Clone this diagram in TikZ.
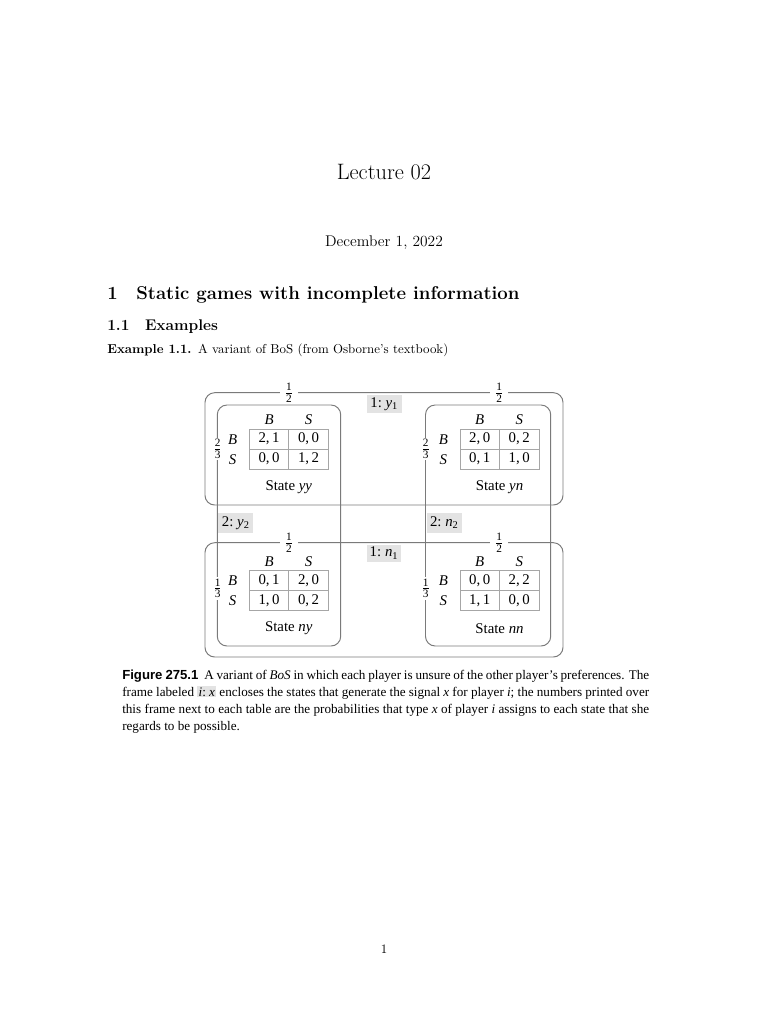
\documentclass[tikz,border=0pt]{standalone}
\usepackage{amsmath}
\usepackage{fontspec}
\newfontfamily\figfont{Liberation Serif}
\newfontfamily\capsans{Liberation Sans}
\newcommand\ff{\figfont\fontsize{11.5}{13.5}\selectfont}
\newcommand\capf{\figfont\fontsize{10.2}{12}\selectfont}
\newcommand\fr[2]{$\frac{\text{#1}}{\text{#2}}$}
\newcommand\gtab[8]{%
  % #1 name, #2 left x, #3 top y, #4..#7 payoffs, #8 state
  \node[hdr] (#1-hb) at ({#2+19.75},{#3-9.5}) {\textit{B}};
  \node[hdr] (#1-hs) at ({#2+59.25},{#3-9.5}) {\textit{S}};
  \node[hdr] (#1-rb) at ({#2-16.6},{#3+10}) {\textit{B}};
  \node[hdr] (#1-rs) at ({#2-16.6},{#3+30}) {\textit{S}};
  \node[cellbox] (#1-11) at ({#2+19.75},{#3+10}) {#4};
  \node[cellbox] (#1-12) at ({#2+59.25},{#3+10}) {#5};
  \node[cellbox] (#1-21) at ({#2+19.75},{#3+30}) {#6};
  \node[cellbox] (#1-22) at ({#2+59.25},{#3+30}) {#7};
  \node[hdr] (#1-st) at ({#2+39.5},{#3+57.5}) {State \textit{#8}};
}
\begin{document}
\begin{tikzpicture}[x=0.775pt,y=-0.775pt,
  frame/.style={draw=black!52, line width=0.75pt, rounded corners=7.5pt},
  hdr/.style={font=\ff, inner sep=0pt},
  cellbox/.style={draw=black!35, line width=0.5pt, font=\ff, inner sep=0pt,
    minimum width=30.6pt, minimum height=15.5pt, text height=7.8pt, text depth=2.2pt},
  frac/.style={font=\figfont\fontsize{12.5}{14}\selectfont, fill=white, inner xsep=3.5pt, inner ysep=1pt},
  vfrac/.style={font=\figfont\fontsize{12.5}{14}\selectfont, fill=white, inner xsep=0.5pt, inner ysep=1.5pt},
  lbl/.style={font=\ff, fill=black!11, inner sep=0pt, minimum width=27pt,
    minimum height=13.5pt, text height=7.8pt, text depth=2.4pt},
  txt/.style={inner sep=0pt}]
\useasboundingbox (0,0) rectangle (768,1024);

% ---- page header ----
\node[txt, anchor=base] (title) at (384,179) {\fontsize{17.28}{21}\selectfont Lecture 02};
\node[txt, anchor=base] (date) at (384,246) {\large December 1, 2022};
\node[txt, anchor=base west] (sec) at (107,299) {\Large\bfseries 1\quad Static games with incomplete information};
\node[txt, anchor=base west] (subsec) at (107,330) {\large\bfseries 1.1\quad Examples};
\node[txt, anchor=base west] (ex) at (107,353) {\textbf{Example 1.1.}\hspace{5pt}A variant of BoS (from Osborne's textbook)};

% ---- frames ----
\draw[frame] (205,392.7) rectangle (563,505);
\draw[frame] (205,542.7) rectangle (563,657);
\draw[frame] (217.3,405) rectangle (340.7,646);
\draw[frame] (425.5,405) rectangle (550.7,646);

% ---- tables ----
\gtab{yy}{249.3}{429.3}{2,\,1}{0,\,0}{0,\,0}{1,\,2}{yy}
\gtab{yn}{460}{429.3}{2,\,0}{0,\,2}{0,\,1}{1,\,0}{yn}
\gtab{ny}{249.3}{570.7}{0,\,1}{2,\,0}{1,\,0}{0,\,2}{ny}
\gtab{nn}{460}{570.7}{0,\,0}{2,\,2}{1,\,1}{0,\,0}{nn}

% ---- probabilities on frames ----
\node[frac] (py1a) at (289,392.7) {\fr{1}{2}};
\node[frac] (py1b) at (499.3,392.7) {\fr{1}{2}};
\node[frac] (pn1a) at (289,542.7) {\fr{1}{2}};
\node[frac] (pn1b) at (499.3,542.7) {\fr{1}{2}};
\node[vfrac] (py2a) at (217.6,449) {\fr{2}{3}};
\node[vfrac] (pn2a) at (425.8,449) {\fr{2}{3}};
\node[vfrac] (py2b) at (217.6,588.5) {\fr{1}{3}};
\node[vfrac] (pn2b) at (425.8,588.5) {\fr{1}{3}};

% ---- frame labels ----
\node[lbl] (ly1) at (384.2,403.8) {1:\ \textit{y}\textsubscript{1}};
\node[lbl] (ln1) at (384,553.3) {1:\ \textit{n}\textsubscript{1}};
\node[lbl, minimum height=15pt] (ly2) at (235.8,523) {2:\ \textit{y}\textsubscript{2}};
\node[lbl, minimum height=15pt] (ln2) at (444.3,523) {2:\ \textit{n}\textsubscript{2}};

% ---- caption ----
\node[txt, anchor=base west] (cap1) at (122,679) {\capf\makebox[408.4pt][s]{{\capsans\bfseries Figure 275.1}\hspace{4.5pt}A variant of \textit{BoS} in which each player is unsure of the other player’s preferences. The}};
\node[txt, anchor=base west] (cap2) at (122,696) {\capf\makebox[408.4pt][s]{frame labeled {\setlength\fboxsep{1pt}\colorbox{black!11}{\textit{i}:\hspace{2.5pt}\textit{x}}} encloses the states that generate the signal \textit{x} for player \textit{i}; the numbers printed over}};
\node[txt, anchor=base west] (cap3) at (122,713) {\capf\makebox[408.4pt][s]{this frame next to each table are the probabilities that type \textit{x} of player \textit{i} assigns to each state that she}};
\node[txt, anchor=base west] (cap4) at (122,730) {\capf regards to be possible.};

% ---- page number ----
\node[txt, anchor=base] (pg) at (384,953) {1};
\end{tikzpicture}
\end{document}
